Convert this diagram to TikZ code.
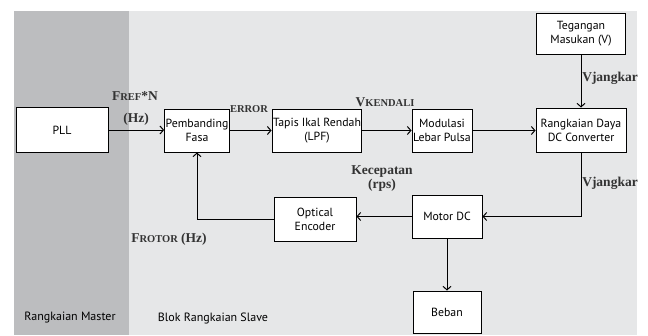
\documentclass[tikz,border=0pt]{standalone}
\usepackage{fontspec}
\setmainfont{Liberation Serif}
\newfontfamily\blokfont{PT Sans}
\usepackage{tikz}
\usetikzlibrary{arrows.meta,positioning}
\definecolor{master}{HTML}{BCBDBF}
\definecolor{slave}{HTML}{E6E7E8}
\newcommand{\kcl}{\fontsize{10.5}{12}\selectfont}

\begin{document}
\begin{tikzpicture}[x=1pt,y=-1pt,
  blok/.style={draw=black,line width=1pt,fill=white,align=center,inner sep=1pt,
    font=\blokfont\fontsize{11.8}{14}\selectfont},
  arr/.style={-{Straight Barb[length=3.5pt,width=8pt]},line width=1pt},
  lbl/.style={font=\bfseries\fontsize{13.5}{15}\selectfont,text=black!80,align=center,inner sep=1pt},
  zona/.style={font=\blokfont\fontsize{12}{14}\selectfont}
]
  \useasboundingbox (0,0) rectangle (648,335);
  % latar belakang
  \fill[master] (14,11) rectangle (129,335);
  \fill[slave] (129,11) rectangle (637,335);

  \node[blok,minimum width=92,minimum height=45] (pll)  at (62,130)    {PLL};
  \node[blok,minimum width=62,minimum height=43] (pemb) at (197,130.5) {Pembanding\\Fasa};
  \node[blok,minimum width=88,minimum height=43] (lpf)  at (317,130.5) {Tapis Ikal Rendah\\(LPF)};
  \node[blok,minimum width=60,minimum height=43] (pwm)  at (442,130.5) {Modulasi\\Lebar Pulsa};
  \node[blok,minimum width=90,minimum height=44] (konv) at (581,130)   {Rangkaian Daya\\DC Converter};
  \node[blok,minimum width=89,minimum height=41] (teg)  at (581,33.5)  {Tegangan\\Masukan (V)};
  \node[blok,minimum width=70,minimum height=43] (motor) at (447,216.5) {Motor DC};
  \node[blok,minimum width=82,minimum height=44] (enc)  at (315,219)   {Optical\\Encoder};
  \node[blok,minimum width=68,minimum height=42] (beban) at (447,312)  {Beban};

  \draw[arr] (pll) -- (pemb.west |- pll);
  \draw[arr] (pemb) -- (lpf);
  \draw[arr] (lpf) -- (pwm);
  \draw[arr] (pwm) -- (konv.west |- pwm);
  \draw[arr] (teg) -- (konv);
  \draw[arr] (konv.south) |- (motor.east);
  \draw[arr] (motor.west) -- (motor.west -| enc.east);
  \draw[arr] (enc.west) -| (pemb.south);
  \draw[arr] (motor) -- (beban);

  \node[lbl] (fref) at (135,96)  {F{\kcl REF}*N};
  \node[lbl] (hz)   at (136,119) {(Hz)};
  \node[lbl,font=\bfseries\kcl] (err) at (249,109) {ERROR};
  \node[lbl] (vk)   at (385,102) {V{\kcl KENDALI}};
  \node[lbl] (vj1)  at (610,78)  {Vjangkar};
  \node[lbl] (vj2)  at (610,183) {Vjangkar};
  \node[lbl] (kec)  at (382,172) {Kecepatan};
  \node[lbl] (rps)  at (382,185) {(rps)};
  \node[lbl] (frot) at (169,239) {F{\kcl ROTOR} (Hz)};
  \node[zona] (mst) at (70,318)  {Rangkaian Master};
  \node[zona] (slv) at (213,318) {Blok Rangkaian Slave};
\end{tikzpicture}
\end{document}
